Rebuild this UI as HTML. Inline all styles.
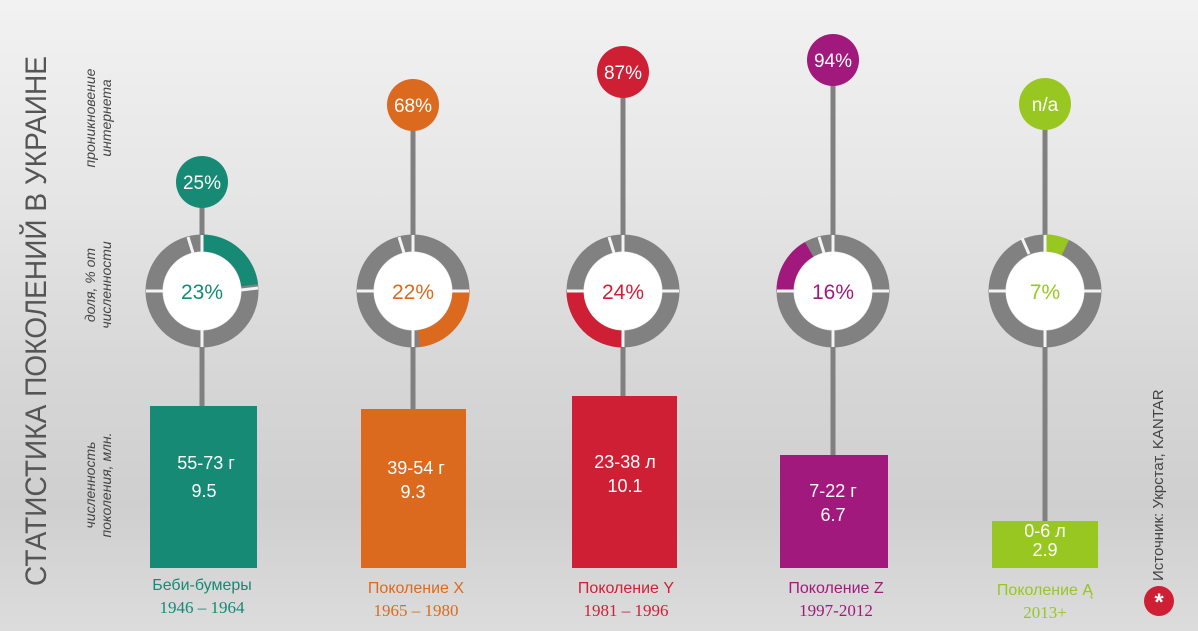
<!DOCTYPE html>
<html><head><meta charset="utf-8"><style>
body{margin:0;width:1198px;height:631px;overflow:hidden;font-family:"Liberation Sans","DejaVu Sans",sans-serif;}
.bg{position:absolute;left:0;top:0;width:1198px;height:631px;background:linear-gradient(180deg,#f2f2f2 0%,#e6e6e6 30%,#d6d6d6 60%,#cfcfcf 80%,#dcdcdc 100%);}
</style></head><body>
<div class="bg"></div>
<svg width="1198" height="631" style="position:absolute;left:0;top:0">
<g stroke="#808080" stroke-width="5">
<line x1="202" y1="182" x2="202" y2="235"/><line x1="202" y1="347" x2="202" y2="406"/>
<line x1="413" y1="105" x2="413" y2="235"/><line x1="413" y1="347" x2="413" y2="409"/>
<line x1="623" y1="72" x2="623" y2="235"/><line x1="623" y1="347" x2="623" y2="396"/>
<line x1="833" y1="60" x2="833" y2="235"/><line x1="833" y1="347" x2="833" y2="455"/>
<line x1="1045" y1="104" x2="1045" y2="235"/><line x1="1045" y1="347" x2="1045" y2="521"/>
</g>
<g fill="none" stroke-width="17">
<circle cx="202" cy="291" r="48" stroke="#818181"/>
<circle cx="413" cy="291" r="48" stroke="#818181"/>
<circle cx="623" cy="291" r="48" stroke="#818181"/>
<circle cx="833" cy="291" r="48" stroke="#818181"/>
<circle cx="1045" cy="291" r="48" stroke="#818181"/>
<circle cx="202" cy="291" r="48" stroke="#168a74" stroke-dasharray="69.4 400" transform="rotate(-90 202 291)"/>
<circle cx="413" cy="291" r="48" stroke="#dc6a1e" stroke-dasharray="69.4 400" transform="rotate(0 413 291)"/>
<circle cx="623" cy="291" r="48" stroke="#cf1f35" stroke-dasharray="75.4 400" transform="rotate(90 623 291)"/>
<circle cx="833" cy="291" r="48" stroke="#a2197d" stroke-dasharray="50.3 400" transform="rotate(180 833 291)"/>
<circle cx="1045" cy="291" r="48" stroke="#98c722" stroke-dasharray="21 400" transform="rotate(-90 1045 291)"/>
</g>
<g stroke="#f3f3f3" stroke-width="3">
<line x1="202" y1="235" x2="202" y2="252"/><line x1="202" y1="330" x2="202" y2="347"/><line x1="146" y1="291" x2="163" y2="291"/><line x1="258" y1="288" x2="241" y2="290"/><line x1="188" y1="237" x2="193" y2="253"/>
<line x1="413" y1="235" x2="413" y2="252"/><line x1="413" y1="330" x2="413" y2="347"/><line x1="357" y1="291" x2="374" y2="291"/><line x1="469" y1="291" x2="452" y2="291"/><line x1="399" y1="237" x2="404" y2="253"/>
<line x1="623" y1="235" x2="623" y2="252"/><line x1="623" y1="330" x2="623" y2="347"/><line x1="567" y1="291" x2="584" y2="291"/><line x1="679" y1="291" x2="662" y2="291"/><line x1="609" y1="237" x2="614" y2="253"/>
<line x1="833" y1="235" x2="833" y2="252"/><line x1="833" y1="330" x2="833" y2="347"/><line x1="777" y1="291" x2="794" y2="291"/><line x1="889" y1="291" x2="872" y2="291"/><line x1="819" y1="237" x2="824" y2="253"/>
<line x1="1045" y1="235" x2="1045" y2="252"/><line x1="1045" y1="330" x2="1045" y2="347"/><line x1="989" y1="291" x2="1006" y2="291"/><line x1="1101" y1="291" x2="1084" y2="291"/><line x1="1022" y1="238" x2="1029" y2="254"/>
</g>
<g fill="#fff"><circle cx="202" cy="291" r="39"/><circle cx="413" cy="291" r="39"/><circle cx="623" cy="291" r="39"/><circle cx="833" cy="291" r="39"/><circle cx="1045" cy="291" r="39"/></g>
<circle cx="202" cy="182" r="26" fill="#168a74"/>
<circle cx="413" cy="105" r="26" fill="#dc6a1e"/>
<circle cx="623" cy="72" r="26" fill="#cf1f35"/>
<circle cx="833" cy="60" r="26" fill="#a2197d"/>
<circle cx="1045" cy="104" r="26" fill="#98c722"/>
<rect x="150" y="406" width="107" height="162" fill="#168a74"/>
<rect x="361" y="409" width="105" height="159" fill="#dc6a1e"/>
<rect x="572" y="396" width="105" height="172" fill="#cf1f35"/>
<rect x="780" y="455" width="108" height="113" fill="#a2197d"/>
<rect x="992" y="521" width="106" height="47" fill="#98c722"/>
<circle cx="1159" cy="601" r="15" fill="#cf1f35"/>
<g font-family="Liberation Sans,sans-serif" text-anchor="middle" font-size="19" fill="#fff">
<text x="202" y="189">25%</text><text x="413" y="112">68%</text><text x="623" y="79">87%</text><text x="833" y="67">94%</text><text x="1045" y="111">n/a</text>
</g>
<g font-family="Liberation Sans,sans-serif" text-anchor="middle" font-size="21">
<text x="202" y="299" fill="#168a74">23%</text><text x="413" y="299" fill="#dc6a1e">22%</text><text x="623" y="299" fill="#cf1f35">24%</text><text x="833" y="299" fill="#a2197d">16%</text><text x="1045" y="299" fill="#98c722">7%</text>
</g>
<g font-family="Liberation Sans,sans-serif" text-anchor="middle" font-size="18" fill="#fff">
<text x="206" y="469">55-73 г</text><text x="204" y="497">9.5</text>
<text x="416" y="474">39-54 г</text><text x="413" y="498">9.3</text>
<text x="625" y="468">23-38 л</text><text x="625" y="492">10.1</text>
<text x="833" y="497">7-22 г</text><text x="833" y="521">6.7</text>
<text x="1045" y="537">0-6 л</text><text x="1045" y="556">2.9</text>
<text x="1159" y="610" font-size="24" font-weight="bold">*</text>
</g>
<g font-family="Liberation Sans,sans-serif" text-anchor="middle" font-size="16">
<text x="202" y="590" fill="#168a74">Беби-бумеры</text><text x="202" y="613" fill="#168a74" font-family="Liberation Serif,serif" font-size="17">1946 – 1964</text>
<text x="416" y="593" fill="#dc6a1e">Поколение X</text><text x="416" y="616" fill="#dc6a1e" font-family="Liberation Serif,serif" font-size="17">1965 – 1980</text>
<text x="626" y="593" fill="#cf1f35">Поколение Y</text><text x="626" y="616" fill="#cf1f35" font-family="Liberation Serif,serif" font-size="17">1981 – 1996</text>
<text x="836" y="593" fill="#a2197d">Поколение Z</text><text x="836" y="616" fill="#a2197d" font-family="Liberation Serif,serif" font-size="17">1997-2012</text>
<text x="1045" y="595" fill="#98c722">Поколение Ą</text><text x="1045" y="618" fill="#98c722" font-family="Liberation Serif,serif" font-size="17">2013+</text>
</g>
<g font-family="Liberation Sans,sans-serif" fill="#555">
<text transform="translate(46 586) rotate(-90)" font-size="30" textLength="530" lengthAdjust="spacingAndGlyphs">СТАТИСТИКА ПОКОЛЕНИЙ В УКРАИНЕ</text>
<g font-style="italic" font-size="14" text-anchor="middle" fill="#444">
<text transform="translate(95 118) rotate(-90)">проникновение</text>
<text transform="translate(111 118) rotate(-90)">интернета</text>
<text transform="translate(95 285) rotate(-90)">доля, % от</text>
<text transform="translate(111 285) rotate(-90)">численности</text>
<text transform="translate(95 485) rotate(-90)">численность</text>
<text transform="translate(111 485) rotate(-90)">поколения, млн.</text>
</g>
<text transform="translate(1163 581) rotate(-90)" font-size="15" fill="#444">Источник: Укрстат, KANTAR</text>
</g>
</svg>
</body></html>
